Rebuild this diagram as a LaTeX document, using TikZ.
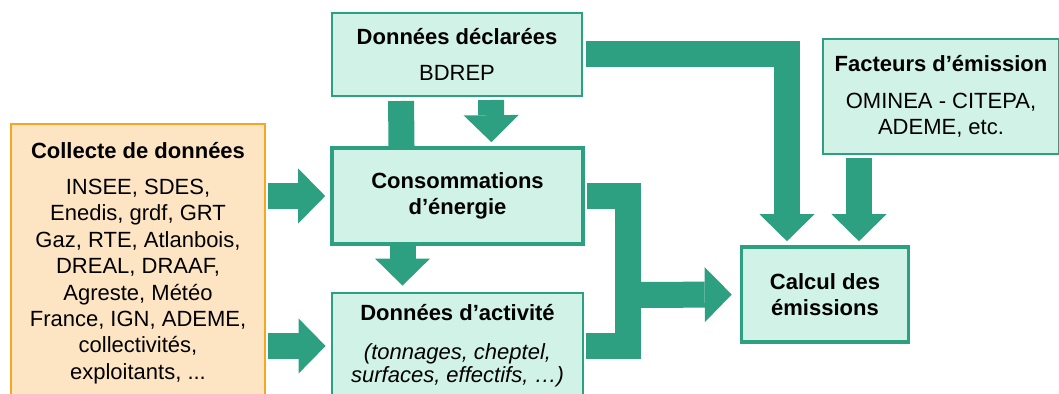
\documentclass[tikz,border=0pt]{standalone}
\usepackage{fontspec}
\setmainfont{Liberation Sans}
\usetikzlibrary{arrows.meta}
\definecolor{vert}{RGB}{44,160,128}
\definecolor{vertclair}{RGB}{208,242,231}
\definecolor{orangefonce}{RGB}{245,166,35}
\definecolor{orangeclair}{RGB}{253,229,196}
\begin{document}
\begin{tikzpicture}[x=0.5pt,y=-0.5pt,
    boite/.style={draw=vert,fill=vertclair,line width=1pt,align=center,
      font=\fontsize{11}{13.2}\selectfont,inner sep=0pt},
    epaisse/.style={boite,line width=1.8pt},
    barre/.style={draw=vert,line width=13pt},
    fleche/.style={barre,-{Triangle[length=13.5pt,width=27.5pt,line width=0pt]}}]
  \useasboundingbox (0,0) rectangle (1059,394);
  \node[boite,draw=orangefonce,fill=orangeclair,line width=0.8pt,
    minimum width=127pt,minimum height=139pt] (collecte) at (138,263)
    {\textbf{Collecte de données}\\[5pt]INSEE, SDES,\\Enedis, grdf, GRT\\
     Gaz, RTE, Atlanbois,\\DREAL, DRAAF,\\Agreste, Météo\\
     France, IGN, ADEME,\\collectivités,\\exploitants, ...};
  \node[boite,minimum width=125pt,minimum height=41.5pt] (decl) at (457,54.5)
    {\textbf{Données déclarées}\\[5pt]BDREP};
  \node[epaisse,minimum width=125.5pt,minimum height=48pt] (conso) at (457.5,196)
    {\textbf{Consommations}\\\textbf{d’énergie}};
  \node[boite,line width=1.4pt,minimum width=125.5pt,minimum height=53pt] (activ) at (457.5,346)
    {\textbf{Données d’activité}\\[6pt]\textit{(tonnages, cheptel,}\\[-1.5pt]
     \textit{surfaces, effectifs, …)}};
  \node[boite,minimum width=118pt,minimum height=57.5pt] (facteur) at (941,96.5)
    {\textbf{Facteurs d’émission}\\[5pt]OMINEA - CITEPA,\\ADEME, etc.};
  \node[epaisse,minimum width=83.5pt,minimum height=47.5pt] (calcul) at (825,294.5)
    {\textbf{Calcul des}\\\textbf{émissions}};
  \coordinate (jonction) at (628,295);
  \draw[barre,shorten <=2pt] ([xshift=-28pt]decl.south) -- ([xshift=-28pt]conso.north);
  \draw[fleche,shorten <=1.5pt,shorten >=2pt] ([xshift=17pt]decl.south) -- ([xshift=17pt]conso.north);
  \draw[fleche,shorten >=3pt] ([xshift=-27.5pt]conso.south) -- ([xshift=-27.5pt]activ.north);
  \draw[fleche,shorten <=1pt,shorten >=2.5pt] (collecte.east |- conso.west) -- (conso.west);
  \draw[fleche,shorten <=1pt,shorten >=2.5pt] (collecte.east |- activ.west) -- (activ.west);
  \draw[fleche,shorten <=1.5pt,shorten >=2pt] (decl.east) -| ([xshift=-19pt]calcul.north);
  \draw[fleche,shorten <=1.5pt,shorten >=2pt] ([xshift=-41pt]facteur.south) -- ([xshift=17pt]calcul.north);
  \draw[barre,shorten <=1pt,shorten >=1pt] (conso.east) -| (jonction) |- (activ.east);
  \draw[fleche,shorten >=4pt] (jonction) -- (calcul.west);
\end{tikzpicture}
\end{document}
